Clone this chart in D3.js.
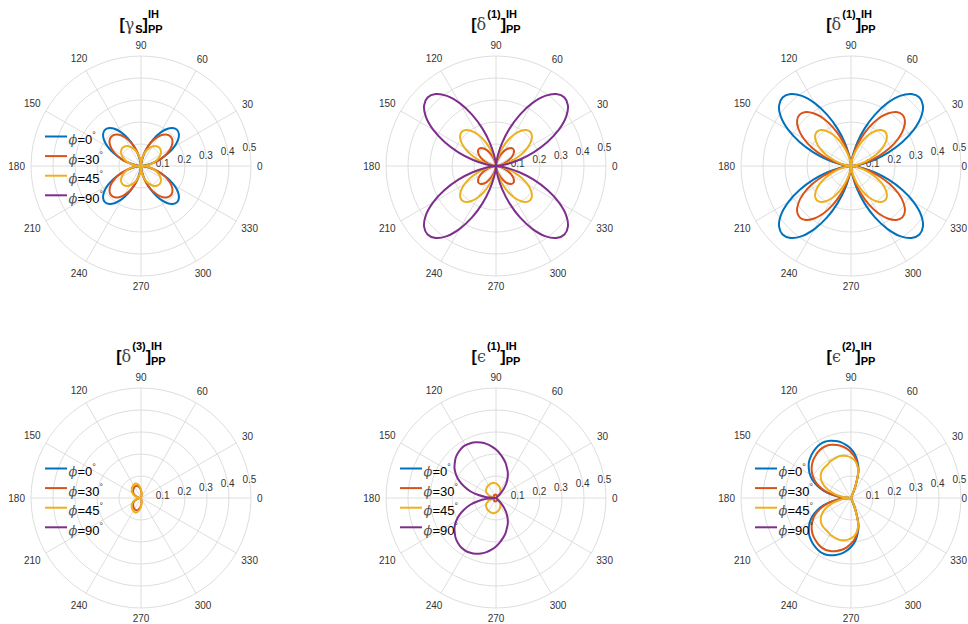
<!DOCTYPE html>
<html><head><meta charset="utf-8">
<script src="https://cdn.jsdelivr.net/npm/d3@7"></script>
<style>body{margin:0;background:#fff}</style>
</head><body><svg id="c" width="968" height="624" xmlns="http://www.w3.org/2000/svg"></svg>
<script>
// ---- data (upper half, theta = 0..180 deg; curves are symmetric about the 0-180 axis) ----
const thetaDeg = [0,5,10,15,20,25,30,35,40,45,50,55,60,65,70,75,80,85,90,95,100,105,110,115,120,125,130,135,140,145,150,155,160,165,170,175,180];
const phiLabels = ["0","30","45","90"];
const colors = ["#0072BD","#D95319","#EDB120","#7E2F8E"];
const rTicks = [0.1,0.2,0.3,0.4,0.5];
const thetaTicks = [0,30,60,90,120,150,180,210,240,270,300,330];

// [gamma_S]
const gS_phi0  = [0,.007,.027,.058,.096,.136,.174,.205,.225,.232,.225,.205,.174,.136,.096,.058,.027,.007,0,.007,.027,.058,.096,.136,.174,.205,.225,.232,.225,.205,.174,.136,.096,.058,.027,.007,0];
const gS_phi30 = [0,.014,.038,.067,.098,.127,.153,.173,.186,.190,.186,.173,.153,.127,.098,.067,.038,.014,0,.014,.038,.067,.098,.127,.153,.173,.186,.190,.186,.173,.153,.127,.098,.067,.038,.014,0];
const gS_phi45 = [0,.020,.040,.059,.076,.090,.102,.111,.116,.118,.116,.111,.102,.090,.076,.059,.040,.020,0,.020,.040,.059,.076,.090,.102,.111,.116,.118,.116,.111,.102,.090,.076,.059,.040,.020,0];
const gS_phi90 = [0,0,0,0,0,0,0,0,0,0,0,0,0,0,0,0,0,0,0,0,0,0,0,0,0,0,0,0,0,0,0,0,0,0,0,0,0];
// [delta(1)] first
const dA_phi0  = [0,0,0,0,0,0,0,0,0,0,0,0,0,0,0,0,0,0,0,0,0,0,0,0,0,0,0,0,0,0,0,0,0,0,0,0,0];
const dA_phi30 = [0,.003,.013,.028,.045,.065,.083,.097,.107,.110,.107,.097,.083,.065,.045,.028,.013,.003,0,.003,.013,.028,.045,.065,.083,.097,.107,.110,.107,.097,.083,.065,.045,.028,.013,.003,0];
const dA_phi45 = [0,.007,.026,.055,.091,.129,.165,.194,.213,.220,.213,.194,.165,.129,.091,.055,.026,.007,0,.007,.026,.055,.091,.129,.165,.194,.213,.220,.213,.194,.165,.129,.091,.055,.026,.007,0];
const dA_phi90 = [0,.013,.051,.110,.182,.258,.330,.389,.427,.440,.427,.389,.330,.258,.182,.110,.051,.013,0,.013,.051,.110,.182,.258,.330,.389,.427,.440,.427,.389,.330,.258,.182,.110,.051,.013,0];
// [delta(1)] second
const dB_phi0  = [0,.013,.051,.110,.182,.258,.330,.389,.427,.440,.427,.389,.330,.258,.182,.110,.051,.013,0,.013,.051,.110,.182,.258,.330,.389,.427,.440,.427,.389,.330,.258,.182,.110,.051,.013,0];
const dB_phi30 = [0,.010,.039,.083,.136,.194,.248,.291,.320,.330,.320,.291,.248,.194,.136,.083,.039,.010,0,.010,.039,.083,.136,.194,.248,.291,.320,.330,.320,.291,.248,.194,.136,.083,.039,.010,0];
const dB_phi45 = [0,.007,.026,.055,.091,.129,.165,.194,.213,.220,.213,.194,.165,.129,.091,.055,.026,.007,0,.007,.026,.055,.091,.129,.165,.194,.213,.220,.213,.194,.165,.129,.091,.055,.026,.007,0];
const dB_phi90 = [0,0,0,0,0,0,0,0,0,0,0,0,0,0,0,0,0,0,0,0,0,0,0,0,0,0,0,0,0,0,0,0,0,0,0,0,0];
// [delta(3)]
const d3_phi0  = [0,0,0,0,0,0,0,0,0,0,0,0,0,0,0,0,0,0,0,0,0,0,0,0,0,0,0,0,0,0,0,0,0,0,0,0,0];
const d3_phi30 = [0,0,0,0,0,0,0,0,0,0,0,0,0,0,0,0,.012,.023,.033,.043,.050,.056,.059,.060,.059,.056,.053,.050,.047,.043,.039,.033,.026,.019,.013,.006,0];
const d3_phi45 = [0,0,0,0,0,0,0,0,0,0,0,0,0,0,0,0,.014,.027,.039,.050,.059,.066,.070,.070,.069,.066,.063,.059,.055,.051,.045,.039,.031,.023,.015,.007,0];
const d3_phi90 = [0,0,0,0,0,0,0,0,0,0,0,0,0,0,0,0,0,0,0,0,0,0,0,0,0,0,0,0,0,0,0,0,0,0,0,0,0];
// [epsilon(1)]
const e1_phi0  = [0,0,0,0,0,0,0,0,0,0,0,0,0,0,0,0,0,0,0,0,0,0,0,0,0,0,0,0,0,0,0,0,0,0,0,0,0];
const e1_phi30 = [0,0,0,0,0,0,0,.002,.004,.005,.007,.008,.010,.011,.012,.013,.014,.014,.015,.015,.016,.016,.016,.016,.015,.015,.014,.014,.013,.012,.011,.010,.008,.006,.004,.002,0];
const e1_phi45 = [0,0,0,0,0,0,0,.009,.016,.023,.030,.036,.041,.045,.050,.055,.059,.063,.066,.068,.070,.070,.070,.068,.067,.066,.064,.061,.059,.055,.050,.043,.036,.027,.018,.009,0];
const e1_phi90 = [0,0,0,0,0,0,0,0,0,.027,.055,.082,.105,.127,.145,.166,.184,.202,.220,.236,.250,.261,.270,.275,.277,.275,.268,.259,.245,.230,.209,.184,.155,.123,.084,.043,0];
// [epsilon(2)]
const e2_phi0  = [0,0,0,0,0,0,0,0,0,0,0,0,0,0,.064,.132,.168,.200,.223,.241,.257,.268,.277,.282,.282,.277,.270,.261,.250,.234,.216,.193,.164,.130,.089,.045,0];
const e2_phi30 = [0,0,0,0,0,0,0,0,0,0,0,0,0,0,.062,.128,.160,.188,.208,.225,.239,.249,.257,.262,.262,.258,.251,.243,.232,.218,.201,.180,.153,.121,.083,.042,0];
const e2_phi45 = [0,0,0,0,0,0,0,0,0,0,0,0,0,0,.059,.127,.155,.173,.184,.191,.195,.198,.195,.193,.191,.186,.184,.182,.177,.168,.155,.136,.111,.082,.052,.025,0];
const e2_phi90 = [0,0,0,0,0,0,0,0,0,0,0,0,0,0,0,0,0,0,0,0,0,0,0,0,0,0,0,0,0,0,0,0,0,0,0,0,0];

const panels = [
  {title:[{t:"["},{t:"γ",greek:1},{t:"S",sub:1},{t:"]"},{stack:1,sup:"IH",sub:"PP"}], series:[gS_phi0,gS_phi30,gS_phi45,gS_phi90], legend:true},
  {title:[{t:"["},{t:"δ",greek:1},{t:"(1)",sup:1},{t:"]"},{stack:1,sup:"IH",sub:"PP"}], series:[dA_phi0,dA_phi30,dA_phi45,dA_phi90], legend:false},
  {title:[{t:"["},{t:"δ",greek:1},{t:"(1)",sup:1},{t:"]"},{stack:1,sup:"IH",sub:"PP"}], series:[dB_phi0,dB_phi30,dB_phi45,dB_phi90], legend:false},
  {title:[{t:"["},{t:"δ",greek:1},{t:"(3)",sup:1},{t:"]"},{stack:1,sup:"IH",sub:"PP"}], series:[d3_phi0,d3_phi30,d3_phi45,d3_phi90], legend:true},
  {title:[{t:"["},{t:"ϵ",greek:1},{t:"(1)",sup:1},{t:"]"},{stack:1,sup:"IH",sub:"PP"}], series:[e1_phi0,e1_phi30,e1_phi45,e1_phi90], legend:true},
  {title:[{t:"["},{t:"ϵ",greek:1},{t:"(2)",sup:1},{t:"]"},{stack:1,sup:"IH",sub:"PP"}], series:[e2_phi0,e2_phi30,e2_phi45,e2_phi90], legend:true}
];

// ---- layout ----
const W = 968;
const colX = [141, 496, 851];
const rowY = [166, 498];
const R = 110;
const FONT = "'Liberation Sans', Arial, Helvetica, sans-serif";
const GREEK = "'DejaVu Serif', 'Liberation Serif', serif";
const gridColor = "#dedede";
const tickColor = "#333333";

const svg = d3.select("#c").attr("font-family", FONT);
const rScale = d3.scaleLinear().domain([0, 0.5]).range([0, R]);
const rad = d => d * Math.PI / 180;

const line = d3.lineRadial()
  .angle(d => rad(90 - d[0]))
  .radius(d => rScale(d[1]))
  .curve(d3.curveCatmullRomClosed.alpha(0.5));

function fullLoop(vals) {
  const pts = thetaDeg.map((t, i) => [t, vals[i]]);
  for (let i = thetaDeg.length - 2; i >= 1; i--) pts.push([360 - thetaDeg[i], vals[i]]);
  return pts;
}

function drawTitle(g, pieces, baseY) {
  const tg = g.append("g");
  let x = 0;
  pieces.forEach(p => {
    if (p.stack) {
      const a = tg.append("text").attr("x", x).attr("y", baseY - 11.5).attr("font-size", 11).attr("font-weight", "bold").attr("fill", "#000").text(p.sup);
      const b = tg.append("text").attr("x", x).attr("y", baseY + 3.8).attr("font-size", 11).attr("font-weight", "bold").attr("fill", "#000").text(p.sub);
      x += Math.max(a.node().getComputedTextLength(), b.node().getComputedTextLength());
    } else {
      const script = p.sup || p.sub;
      const dy = p.sup ? -11.5 : (p.sub ? 3.8 : 0);
      const t = tg.append("text").attr("x", x).attr("y", baseY + dy)
        .attr("font-size", script ? 11 : 16)
        .attr("font-weight", p.greek ? "normal" : "bold")
        .attr("font-family", p.greek ? GREEK : FONT)
        .attr("fill", p.greek ? "#444" : "#000")
        .text(p.t);
      x += t.node().getComputedTextLength() + (p.greek ? 1 : 0);
    }
  });
  tg.attr("transform", `translate(${-x / 2},0)`);
}

panels.forEach((p, k) => {
  const cx = colX[k % 3], cy = rowY[Math.floor(k / 3)];
  const g = svg.append("g").attr("transform", `translate(${cx},${cy})`);

  // grid circles
  g.selectAll("circle.grid").data(rTicks).join("circle")
    .attr("r", d => rScale(d)).attr("fill", "none").attr("stroke", gridColor).attr("stroke-width", 1);
  // spokes
  g.selectAll("line.spoke").data(thetaTicks).join("line")
    .attr("x1", 0).attr("y1", 0)
    .attr("x2", d => rScale(0.5) * Math.cos(rad(d)))
    .attr("y2", d => -rScale(0.5) * Math.sin(rad(d)))
    .attr("stroke", gridColor).attr("stroke-width", 1);

  // theta labels
  g.selectAll("text.th").data(thetaTicks).join("text")
    .attr("font-size", 10).attr("fill", tickColor).attr("text-anchor", "middle")
    .attr("dominant-baseline", "central")
    .text(d => d)
    .each(function (d) {
      const w = this.getComputedTextLength() / 2;
      const c = Math.cos(rad(d)), s = Math.sin(rad(d));
      const off = R + 6 + Math.abs(c) * w + Math.abs(s) * 4.5;
      let x = off * c;
      // keep the label inside the page
      if (cx + x + w > W - 1) x = W - 1 - w - cx;
      d3.select(this).attr("x", x).attr("y", -off * s);
    });

  // r labels at 10 deg
  g.selectAll("text.rl").data(rTicks).join("text")
    .attr("font-size", 10).attr("fill", tickColor).attr("text-anchor", "middle")
    .attr("dominant-baseline", "central")
    .attr("x", d => rScale(d) * Math.cos(rad(10)))
    .attr("y", d => -rScale(d) * Math.sin(rad(10)) + 1)
    .text(d => d);

  // data curves
  p.series.forEach((vals, i) => {
    g.append("path").attr("d", line(fullLoop(vals)))
      .attr("fill", "none").attr("stroke", colors[i]).attr("stroke-width", 2)
      .attr("stroke-linejoin", "round").attr("stroke-linecap", "butt");
  });

  // title
  drawTitle(g, p.title, -136.5);

  // legend
  if (p.legend) {
    const lg = g.append("g");
    phiLabels.forEach((lab, i) => {
      const y = -29.5 + i * 19.6;
      lg.append("line").attr("x1", -96).attr("x2", -74).attr("y1", y).attr("y2", y)
        .attr("stroke", colors[i]).attr("stroke-width", 2);
      const t = lg.append("text").attr("x", -72.5).attr("y", y + 7.5).attr("font-size", 13).attr("fill", "#000");
      t.append("tspan").attr("font-family", GREEK).attr("font-style", "italic").attr("fill", "#555").text("ϕ");
      t.append("tspan").text("=" + lab);
      t.append("tspan").attr("font-size", 9).attr("dy", -6).attr("fill", "#333").text("°");
    });
  }
});
</script>
</body></html>
